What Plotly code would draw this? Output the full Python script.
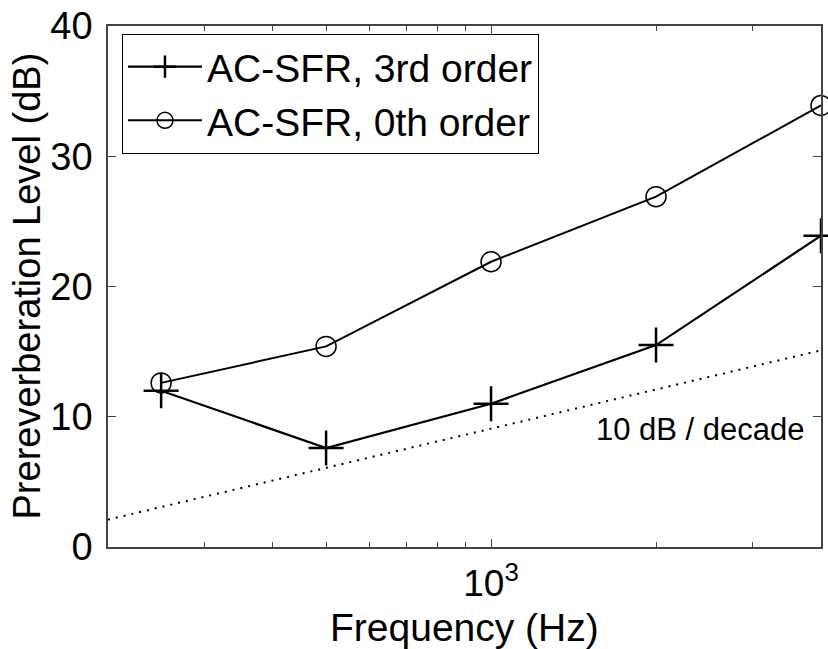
import plotly.graph_objects as go

freq = [250, 500, 1000, 2000, 4000]
order3 = [12.0, 7.6, 11.0, 15.5, 23.9]
order0 = [12.6, 15.4, 21.9, 26.9, 33.9]
ref_x = [200, 4000]
ref_y = [2.1, 15.1]
x_minor = [300, 400, 500, 600, 700, 800, 900, 2000, 3000]
y_ticks = [0, 10, 20, 30, 40]

FONT = "Liberation Sans, Arial, sans-serif"

fig = go.Figure()
fig.add_trace(go.Scatter(x=ref_x, y=ref_y, mode="lines",
                         line=dict(color="black", width=2, dash="2px,6px"),
                         showlegend=False, hoverinfo="skip"))
fig.add_trace(go.Scatter(x=freq, y=order3, mode="lines+markers", name="AC-SFR, 3rd order",
                         line=dict(color="black", width=2.2),
                         marker=dict(symbol="cross-thin-open", size=25,
                                     line=dict(color="black", width=2.5)),
                         cliponaxis=False))
fig.add_trace(go.Scatter(x=freq, y=order0, mode="lines+markers", name="AC-SFR, 0th order",
                         line=dict(color="black", width=2),
                         marker=dict(symbol="circle-open", size=20, color="black",
                                     line=dict(color="black", width=1.5)),
                         cliponaxis=False))

fig.add_annotation(x=3.3826, y=9.0, xref="x", yref="y", text="10 dB / decade",
                   showarrow=False, font=dict(family=FONT, size=31, color="black"))

fig.add_annotation(x=0.5, y=0, xref="paper", yref="paper", yshift=-80, yanchor="middle",
                   text="Frequency (Hz)", showarrow=False,
                   font=dict(family=FONT, size=39, color="black"))
fig.add_annotation(x=0, y=0.5, xref="paper", yref="paper", xshift=-82, xanchor="center",
                   text="Prereverberation Level (dB)", showarrow=False, textangle=-90,
                   font=dict(family=FONT, size=38, color="black"))

fig.update_layout(
    width=828, height=649,
    margin=dict(l=108, r=5, t=24, b=102),
    paper_bgcolor="white", plot_bgcolor="white",
    font=dict(family=FONT, size=38, color="black"),
    legend=dict(x=0.0196, y=0.985, xanchor="left", yanchor="top",
                bgcolor="white", bordercolor="black", borderwidth=1,
                font=dict(family=FONT, size=39, color="black"),
                tracegroupgap=0, itemwidth=74),
)
fig.update_xaxes(type="log", range=[2.30103, 3.60206],
                 tickmode="array", tickvals=[1000], ticktext=["10<sup>3</sup>"],
                 ticks="inside", ticklen=8, tickwidth=1, tickcolor="#444",
                 mirror="ticks", showline=True, linecolor="#444", linewidth=1.5,
                 showgrid=False, zeroline=False, ticklabelstandoff=3,
                 tickfont=dict(family=FONT, size=37),
                 minor=dict(tickmode="array", tickvals=x_minor, ticks="inside",
                            ticklen=5, tickcolor="#444", showgrid=False))
fig.update_yaxes(range=[0, 40], tickmode="array", tickvals=y_ticks,
                 ticks="inside", ticklen=8, tickwidth=1, tickcolor="#444",
                 mirror="ticks", showline=True, linecolor="#444", linewidth=1.5,
                 showgrid=False, zeroline=False, ticklabelstandoff=6,
                 tickfont=dict(family=FONT, size=38))

fig.write_html("out.html")
